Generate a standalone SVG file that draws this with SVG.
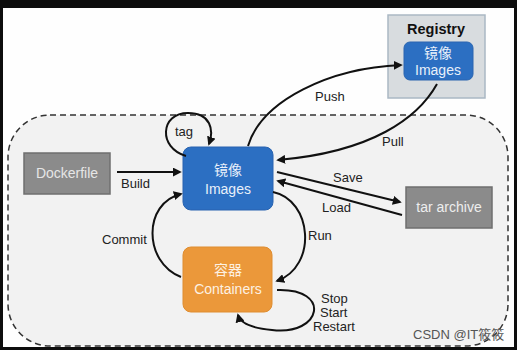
<svg xmlns="http://www.w3.org/2000/svg" width="517" height="350" viewBox="0 0 517 350">
<style>
.lbl{font-family:"Liberation Sans",Arial,sans-serif;font-size:13px;fill:#222;}
.box{font-family:"Liberation Sans","Noto Sans CJK SC",sans-serif;font-size:14px;text-anchor:middle;}
.cjk{font-family:"Noto Sans CJK SC",sans-serif;font-size:14px;text-anchor:middle;}
.edge{fill:none;stroke:#111;stroke-width:2;marker-end:url(#ah);}
</style>
<defs>
<marker id="ah" viewBox="0 0 10 10" refX="8" refY="5" markerWidth="4.5" markerHeight="4.5" orient="auto" markerUnits="strokeWidth">
<path d="M0,0 L10,5 L0,10 z" fill="#111"/>
</marker>
</defs>
<rect x="0" y="0" width="517" height="350" fill="#0d0d0d"/>
<rect x="3" y="8" width="511" height="339" fill="#fefefe"/>
<rect id="host" x="8" y="115" width="500" height="231" rx="42" ry="42" fill="#f2f2f2" stroke="#333" stroke-width="1.5" stroke-dasharray="6,4"/>

<g id="registry">
<rect x="388" y="15" width="97" height="83" fill="#d8dcdf" stroke="#aab8c4" stroke-width="1.5"/>
<text x="436" y="34" font-family="Liberation Sans,Arial,sans-serif" font-size="14.5" font-weight="bold" text-anchor="middle" fill="#111">Registry</text>
<rect x="404" y="42" width="69" height="38" rx="6" fill="#2c6fc2" stroke="#2a65b0"/>
<text x="438" y="58" class="cjk" font-size="13" fill="#e8f0fa">镜像</text>
<text x="438" y="75" class="box" font-size="15" fill="#e8f0fa">Images</text>
</g>

<g id="dockerfile">
<rect x="24" y="153" width="86" height="41" fill="#8b8b8b" stroke="#6f6f6f" stroke-width="1.5"/>
<text x="67" y="178" class="box" font-size="13" fill="#e6e6e6">Dockerfile</text>
</g>

<g id="images">
<rect x="183" y="147" width="90" height="63" rx="8" fill="#2c6fc2" stroke="#2863b0"/>
<text x="228" y="175" class="cjk" fill="#e8f0fa">镜像</text>
<text x="228" y="194" class="box" font-size="15" fill="#e8f0fa">Images</text>
</g>

<g id="containers">
<rect x="183" y="247" width="89" height="65" rx="8" fill="#eb983a" stroke="#df8d30"/>
<text x="228" y="275" class="cjk" fill="#fdf1e2">容器</text>
<text x="228" y="294" class="box" font-size="15" fill="#fdf1e2">Containers</text>
</g>

<g id="tar">
<rect x="406" y="187" width="86" height="41" fill="#8b8b8b" stroke="#6f6f6f" stroke-width="1.5"/>
<text x="449" y="212" class="box" font-size="13" fill="#eeeeee">tar archive</text>
</g>

<g id="connectors">
<path class="edge" d="M117,172 L180,172"/>
<path class="edge" d="M186,156 C 158,148 160,113 188,113 C 211,113 214,130 209,144"/>
<path class="edge" d="M248,146 C 262,100 330,68 401,65"/>
<path class="edge" d="M437,84 C 418,118 372,152 278,160"/>
<path class="edge" d="M277,172 L400,202"/>
<path class="edge" d="M402,215 L278,181"/>
<path class="edge" d="M273,192 C 312,200 318,266 277,281"/>
<path class="edge" d="M181,277 C 143,262 143,203 181,194"/>
<path class="edge" d="M277,290 C 332,288 322,336 272,330 C 250,328 240,322 238,315"/>
</g>

<g id="labels">
<text class="lbl" x="121" y="188">Build</text>
<text class="lbl" x="175" y="136">tag</text>
<text class="lbl" x="315" y="101">Push</text>
<text class="lbl" x="382" y="146">Pull</text>
<text class="lbl" x="333" y="182">Save</text>
<text class="lbl" x="322" y="212">Load</text>
<text class="lbl" x="308" y="240">Run</text>
<text class="lbl" x="102" y="244">Commit</text>
<text class="lbl" x="321" y="303">Stop</text>
<text class="lbl" x="320" y="317">Start</text>
<text class="lbl" x="313" y="331">Restart</text>
<text x="413" y="339" font-family="Liberation Sans,Noto Sans CJK SC,sans-serif" font-size="13" fill="#555">CSDN @IT筱筱</text>
</g>
</svg>
